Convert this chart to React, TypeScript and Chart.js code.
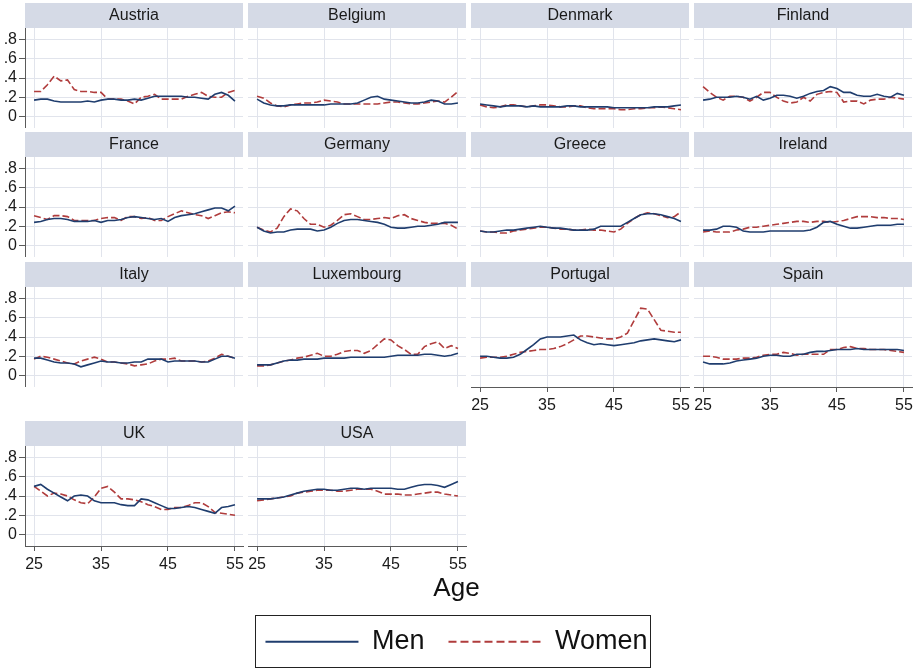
import React, { useEffect, useRef } from "react";
import { Chart, registerables } from "chart.js";
Chart.register(...registerables);

// ---------------- data ----------------
const ages = [25, 26, 27, 28, 29, 30, 31, 32, 33, 34, 35, 36, 37, 38, 39, 40, 41, 42, 43, 44, 45, 46, 47, 48, 49, 50, 51, 52, 53, 54, 55];
const xTickValues = [25, 35, 45, 55];
const yTickValues = [0, 0.2, 0.4, 0.6, 0.8];
const yTickLabels = ["0", ".2", ".4", ".6", ".8"];
const seriesNames = ["Men", "Women"];
const xAxisTitle = "Age";
const countries = ["Austria", "Belgium", "Denmark", "Finland", "France", "Germany", "Greece", "Ireland", "Italy", "Luxembourg", "Portugal", "Spain", "UK", "USA"];

const austriaMen = [.17, .18, .18, .16, .15, .15, .15, .15, .16, .15, .17, .18, .18, .17, .17, .18, .17, .19, .21, .21, .21, .21, .21, .20, .20, .19, .18, .23, .25, .22, .16];
const austriaWomen = [.26, .26, .33, .42, .37, .38, .28, .26, .26, .25, .25, .18, .18, .18, .16, .13, .20, .21, .23, .18, .18, .18, .18, .21, .23, .25, .21, .20, .20, .25, .27];
const belgiumMen = [.18, .14, .12, .11, .11, .12, .12, .12, .12, .12, .12, .13, .13, .13, .13, .14, .17, .20, .21, .18, .17, .16, .15, .14, .14, .15, .17, .16, .13, .13, .14];
const belgiumWomen = [.21, .19, .14, .11, .10, .12, .13, .14, .14, .15, .17, .16, .15, .13, .13, .13, .13, .13, .13, .14, .15, .15, .14, .13, .13, .14, .15, .16, .15, .20, .26];
const denmarkMen = [.13, .12, .11, .10, .11, .11, .11, .10, .11, .10, .10, .10, .10, .11, .11, .10, .10, .10, .10, .10, .09, .09, .09, .09, .09, .09, .10, .10, .10, .11, .12];
const denmarkWomen = [.12, .10, .09, .10, .12, .12, .11, .10, .11, .12, .12, .11, .10, .10, .11, .11, .09, .08, .08, .08, .08, .07, .07, .08, .08, .09, .09, .10, .09, .08, .07];
const finlandMen = [.17, .18, .20, .20, .20, .21, .20, .18, .21, .17, .19, .22, .22, .21, .19, .21, .24, .26, .27, .31, .29, .25, .25, .22, .21, .21, .23, .21, .20, .24, .22];
const finlandWomen = [.31, .25, .20, .17, .21, .21, .20, .16, .20, .25, .25, .20, .16, .14, .15, .20, .16, .23, .25, .26, .25, .15, .16, .16, .13, .17, .18, .18, .20, .19, .18];
const franceMen = [.24, .25, .27, .28, .28, .27, .25, .25, .25, .26, .24, .26, .26, .27, .29, .30, .29, .28, .27, .28, .25, .29, .31, .32, .33, .35, .37, .39, .39, .36, .41];
const franceWomen = [.31, .29, .27, .31, .31, .30, .26, .26, .26, .26, .28, .29, .29, .26, .30, .30, .28, .29, .26, .26, .30, .33, .36, .34, .32, .31, .28, .31, .34, .35, .34];
const germanyMen = [.19, .15, .13, .14, .14, .16, .17, .17, .17, .15, .16, .19, .23, .26, .27, .27, .26, .25, .24, .22, .19, .18, .18, .19, .20, .20, .21, .22, .24, .24, .24];
const germanyWomen = [.19, .16, .14, .18, .30, .38, .36, .28, .22, .22, .19, .21, .26, .32, .33, .30, .27, .27, .28, .29, .28, .31, .32, .28, .26, .24, .23, .23, .23, .21, .17];
const greeceMen = [.15, .14, .14, .15, .16, .16, .17, .18, .19, .20, .19, .18, .18, .17, .16, .16, .16, .17, .20, .20, .20, .20, .24, .28, .32, .33, .33, .32, .30, .28, .25];
const greeceWomen = [.15, .14, .14, .13, .13, .15, .16, .17, .18, .19, .19, .18, .17, .17, .16, .16, .17, .16, .16, .15, .14, .17, .23, .28, .32, .34, .33, .31, .29, .30, .35];
const irelandMen = [.16, .16, .17, .20, .20, .19, .15, .14, .14, .14, .15, .15, .15, .15, .15, .15, .16, .19, .24, .25, .22, .20, .18, .18, .19, .20, .21, .21, .21, .22, .22];
const irelandWomen = [.14, .15, .14, .14, .14, .16, .17, .19, .19, .20, .21, .22, .23, .24, .25, .25, .24, .25, .25, .24, .25, .26, .28, .30, .30, .30, .29, .29, .28, .28, .27];
const italyMen = [.18, .18, .16, .14, .13, .13, .12, .09, .11, .13, .15, .14, .14, .13, .13, .14, .14, .17, .17, .17, .14, .15, .15, .15, .15, .14, .14, .17, .20, .20, .18];
const italyWomen = [.17, .20, .19, .17, .15, .13, .12, .15, .17, .19, .17, .14, .14, .13, .12, .10, .11, .12, .15, .17, .17, .18, .15, .15, .15, .14, .15, .18, .22, .20, .18];
const luxembourgMen = [.11, .11, .11, .13, .15, .16, .16, .17, .17, .17, .18, .18, .18, .18, .19, .19, .19, .19, .19, .19, .20, .21, .21, .21, .21, .22, .22, .21, .20, .21, .23];
const luxembourgWomen = [.10, .10, .11, .13, .15, .16, .18, .19, .21, .23, .20, .20, .22, .25, .26, .26, .23, .26, .32, .38, .37, .31, .27, .22, .22, .30, .33, .35, .28, .31, .28];
const portugalMen = [.20, .20, .19, .18, .18, .19, .22, .27, .32, .38, .40, .40, .40, .41, .42, .37, .34, .32, .33, .32, .31, .32, .33, .34, .36, .37, .38, .37, .36, .35, .37];
const portugalWomen = [.18, .19, .19, .19, .20, .22, .24, .25, .26, .27, .27, .28, .30, .33, .37, .41, .41, .40, .39, .38, .38, .40, .44, .57, .70, .69, .58, .47, .46, .45, .45];
const spainMen = [.14, .12, .12, .12, .13, .15, .16, .17, .18, .20, .21, .21, .20, .20, .22, .22, .24, .25, .25, .26, .27, .27, .27, .28, .27, .27, .27, .27, .27, .27, .26];
const spainWomen = [.20, .20, .19, .17, .17, .17, .18, .18, .19, .21, .22, .22, .24, .23, .21, .22, .22, .22, .22, .27, .27, .29, .30, .28, .28, .27, .27, .27, .26, .25, .24];
const ukMen = [.50, .52, .47, .43, .39, .35, .40, .41, .40, .35, .33, .33, .33, .31, .30, .30, .37, .36, .33, .30, .27, .27, .28, .29, .28, .26, .24, .22, .28, .29, .31];
const ukWomen = [.50, .45, .40, .43, .42, .40, .36, .33, .32, .39, .48, .50, .44, .37, .37, .36, .34, .31, .29, .26, .26, .28, .28, .30, .33, .33, .29, .23, .22, .21, .20];
const usaMen = [.37, .37, .37, .38, .39, .41, .43, .45, .46, .47, .47, .46, .46, .47, .48, .48, .47, .48, .48, .48, .48, .47, .47, .49, .51, .52, .52, .51, .49, .52, .55];
const usaWomen = [.35, .36, .37, .38, .39, .40, .43, .44, .45, .46, .46, .46, .45, .45, .46, .47, .47, .47, .45, .42, .42, .42, .41, .41, .42, .43, .44, .44, .42, .41, .40];

const panelSeries: number[][][] = [
  [austriaMen, austriaWomen], [belgiumMen, belgiumWomen], [denmarkMen, denmarkWomen], [finlandMen, finlandWomen],
  [franceMen, franceWomen], [germanyMen, germanyWomen], [greeceMen, greeceWomen], [irelandMen, irelandWomen],
  [italyMen, italyWomen], [luxembourgMen, luxembourgWomen], [portugalMen, portugalWomen], [spainMen, spainWomen],
  [ukMen, ukWomen], [usaMen, usaWomen],
];

// ---------------- styles / layout ----------------
const FONT = "'Liberation Sans', Arial, Helvetica, sans-serif";
const MEN_COLOR = "#1f3d6e";
const WOMEN_COLOR = "#b03c3c";
const GRID_COLOR = "#e1e4ec";
const STRIP_COLOR = "#d5dae6";
const AXIS_COLOR = "#5a5a5a";
const COL_LEFT = [25, 248, 471, 694];
const STRIP_TOP = [3, 132, 262, 421];
const PLOT_W = 218;
const PLOT_H = 100;
const STRIP_H = 25;
const X_MIN = 23.65;
const X_MAX = 56.2;
const Y_MIN = -0.12;
const Y_MAX = 0.92;

const stripPlugin = {
  id: "strip",
  beforeDraw(chart: any) {
    const t = chart.titleBlock;
    const ca = chart.chartArea;
    if (!t || !ca) return;
    const ctx = chart.ctx;
    ctx.save();
    ctx.fillStyle = STRIP_COLOR;
    ctx.fillRect(ca.left, t.top, ca.right - ca.left, t.bottom - t.top);
    ctx.restore();
  },
};

function Panel({ idx }: { idx: number }) {
  const ref = useRef<HTMLCanvasElement>(null);
  const row = Math.floor(idx / 4);
  const col = idx % 4;
  const showY = col === 0;
  const showX = idx >= 10;
  const yW = showY ? 25 : 0;
  const xH = showX ? 32 : 0;
  const pad = 8;
  const left = COL_LEFT[col] - yW - pad;
  const top = STRIP_TOP[row];
  const width = pad + yW + PLOT_W + pad;
  const height = STRIP_H + PLOT_H + xH;

  useEffect(() => {
    const [men, women] = panelSeries[idx];
    const chart = new Chart(ref.current as HTMLCanvasElement, {
      type: "line",
      data: {
        datasets: [
          {
            label: seriesNames[0],
            data: ages.map((a, i) => ({ x: a, y: men[i] })),
            borderColor: MEN_COLOR,
            borderWidth: 1.6,
            pointRadius: 0,
            tension: 0,
            fill: false,
          },
          {
            label: seriesNames[1],
            data: ages.map((a, i) => ({ x: a, y: women[i] })),
            borderColor: WOMEN_COLOR,
            borderWidth: 1.6,
            borderDash: [7, 3],
            pointRadius: 0,
            tension: 0,
            fill: false,
          },
        ],
      },
      options: {
        animation: false,
        responsive: false,
        maintainAspectRatio: false,
        events: [],
        layout: { padding: { left: pad, right: pad, top: 0, bottom: 0 } },
        plugins: {
          legend: { display: false },
          tooltip: { enabled: false },
          title: {
            display: true,
            text: countries[idx],
            fullSize: false,
            color: "#1a1a1a",
            font: { size: 16, family: FONT, weight: "normal", lineHeight: 1.25 },
            padding: { top: 3, bottom: 2 },
          },
        },
        scales: {
          x: {
            type: "linear",
            min: X_MIN,
            max: X_MAX,
            afterBuildTicks: (s: any) => {
              s.ticks = xTickValues.map((v) => ({ value: v }));
            },
            afterFit: (s: any) => {
              s.height = xH;
              s.paddingLeft = 0;
              s.paddingRight = 0;
            },
            grid: {
              color: GRID_COLOR,
              lineWidth: 1,
              drawTicks: showX,
              tickLength: 5,
              tickColor: AXIS_COLOR,
            },
            border: { display: showX, color: AXIS_COLOR, width: 1 },
            ticks: {
              display: showX,
              autoSkip: false,
              maxRotation: 0,
              padding: 4,
              color: "#1a1a1a",
              font: { size: 16, family: FONT },
              callback: (v: any) => String(v),
            },
          },
          y: {
            type: "linear",
            min: Y_MIN,
            max: Y_MAX,
            afterBuildTicks: (s: any) => {
              s.ticks = yTickValues.map((v) => ({ value: v }));
            },
            afterFit: (s: any) => {
              s.width = yW;
              s.paddingTop = 0;
              s.paddingBottom = 0;
            },
            grid: {
              color: GRID_COLOR,
              lineWidth: 1,
              drawTicks: showY,
              tickLength: 6,
              tickColor: AXIS_COLOR,
            },
            border: { display: showY, color: AXIS_COLOR, width: 1 },
            ticks: {
              display: showY,
              autoSkip: false,
              padding: 2,
              color: "#1a1a1a",
              font: { size: 16, family: FONT },
              callback: (_v: any, i: number) => yTickLabels[i],
            },
          },
        },
      },
      plugins: [stripPlugin],
    } as any);
    return () => chart.destroy();
  }, [idx]);

  return (
    <canvas
      ref={ref}
      width={width}
      height={height}
      style={{ position: "absolute", left, top, width, height }}
    />
  );
}

const legendBoxPlugin = {
  id: "legendBox",
  afterDraw(chart: any) {
    const hb = chart.legend && chart.legend.legendHitBoxes;
    if (!hb || !hb.length) return;
    const first = hb[0];
    const last = hb[hb.length - 1];
    const cy = first.top + first.height / 2;
    const x0 = Math.round(first.left - 10) + 0.5;
    const x1 = Math.round(last.left + last.width + 2) + 0.5;
    const y0 = Math.round(cy - 27) + 0.5;
    const y1 = Math.min(Math.round(cy + 25), chart.height - 2) + 0.5;
    const ctx = chart.ctx;
    ctx.save();
    ctx.strokeStyle = "#222";
    ctx.lineWidth = 1;
    ctx.strokeRect(x0, y0, x1 - x0, y1 - y0);
    ctx.restore();
  },
};

function LegendBlock() {
  const ref = useRef<HTMLCanvasElement>(null);
  const W = 913;
  const H = 103;
  useEffect(() => {
    const colors = [MEN_COLOR, WOMEN_COLOR];
    const dashes = [[], [8, 4]];
    const chart = new Chart(ref.current as HTMLCanvasElement, {
      type: "line",
      data: {
        datasets: seriesNames.map((n, i) => ({
          label: n,
          data: [],
          borderColor: colors[i],
          borderWidth: 2,
          borderDash: dashes[i],
        })),
      },
      options: {
        animation: false,
        responsive: false,
        maintainAspectRatio: false,
        events: [],
        scales: { x: { display: false }, y: { display: false } },
        plugins: {
          tooltip: { enabled: false },
          title: {
            display: true,
            text: xAxisTitle,
            color: "#111",
            font: { size: 26, family: FONT, weight: "normal", lineHeight: 1.2 },
            padding: { top: 7, bottom: 0 },
          },
          legend: {
            display: true,
            position: "top",
            labels: {
              usePointStyle: true,
              pointStyle: "line",
              pointStyleWidth: 93,
              padding: 24,
              color: "#111",
              font: { size: 27, family: FONT },
              generateLabels: () =>
                seriesNames.map((n, i) => ({
                  text: n,
                  fillStyle: colors[i],
                  strokeStyle: colors[i],
                  lineWidth: 2,
                  lineDash: dashes[i],
                  pointStyle: "line",
                  hidden: false,
                  datasetIndex: i,
                  fontColor: "#111",
                })),
            },
          },
        },
      },
      plugins: [legendBoxPlugin],
    } as any);
    return () => chart.destroy();
  }, []);
  return (
    <canvas
      ref={ref}
      width={W}
      height={H}
      style={{ position: "absolute", left: 0, top: 566, width: W, height: H }}
    />
  );
}

export default function App() {
  return (
    <div
      style={{
        position: "absolute",
        left: 0,
        top: 0,
        width: 913,
        height: 669,
        overflow: "hidden",
        background: "#ffffff",
      }}
    >
      {countries.map((c, i) => (
        <Panel key={c} idx={i} />
      ))}
      <LegendBlock />
    </div>
  );
}
